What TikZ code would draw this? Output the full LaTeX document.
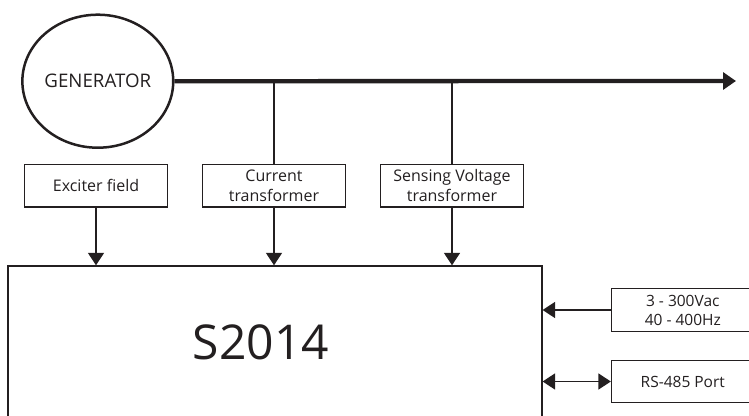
\documentclass[tikz,border=0pt]{standalone}
\usepackage{fontspec}
\setmainfont{Open Sans}
\usetikzlibrary{shapes.geometric,arrows.meta,positioning}
\definecolor{ink}{HTML}{231F20}
\begin{document}
\begin{tikzpicture}[x=1pt,y=-1pt,
  ink/.style={draw=ink,text=ink},
  blk/.style={ink,draw,line width=1.4pt,minimum width=142.5pt,minimum height=42.5pt,inner sep=0pt,align=center,font=\fontsize{16}{19.5}\selectfont},
  rblk/.style={blk,font=\fontsize{15.5}{19}\selectfont},
  thin/.style={draw=ink,line width=1.6pt},
  tip/.style={-{Triangle[length=12.5pt,width=16pt]}},
  dtip/.style={{Triangle[length=12.5pt,width=16pt]}-{Triangle[length=12.5pt,width=16pt]}}
]
\useasboundingbox (0,0) rectangle (749,415);
\clip (0,0) rectangle (749,415);
\node[ellipse,ink,draw,line width=2.5pt,minimum width=143pt,minimum height=133pt,inner sep=0pt,font=\fontsize{18.7}{20}\selectfont] (gen) at (97.8,81.2) {GENERATOR};
\coordinate (busend) at (736,81);
\draw[draw=ink,line width=4.3pt,-{Triangle[length=13pt,width=17pt]}] (gen.east) -- (busend);
\coordinate (t1) at (274,81);
\coordinate (t2) at (452,81);
\node[blk] (ex) at (96,185.7) {Exciter field};
\node[blk] (ct) at (274,185.7) {Current\\transformer};
\node[blk] (sv) at (452,185.7) {Sensing Voltage\\transformer};
\node[ink,draw,line width=1.6pt,minimum width=533.7pt,minimum height=180pt,inner sep=0pt,anchor=north west] (s) at (7.3,265.3) {};
\node[text=ink,font=\fontsize{48}{50}\selectfont] (lbl) at (261,342) {S2014};
\node[rblk] (vac) at (682.8,310) {3 - 300Vac\\40 - 400Hz};
\node[rblk] (rs) at (682.8,381.5) {RS-485 Port};
\draw[thin] (t1) -- (ct.north);
\draw[thin] (t2) -- (sv.north);
\draw[thin,tip] (ex.south) -- (ex.south |- s.north);
\draw[thin,tip] (ct.south) -- (ct.south |- s.north);
\draw[thin,tip] (sv.south) -- (sv.south |- s.north);
\draw[thin,tip] (vac.west) -- (s.east |- vac.west);
\draw[thin,dtip] (s.east |- rs.west) -- (rs.west);
\end{tikzpicture}
\end{document}
